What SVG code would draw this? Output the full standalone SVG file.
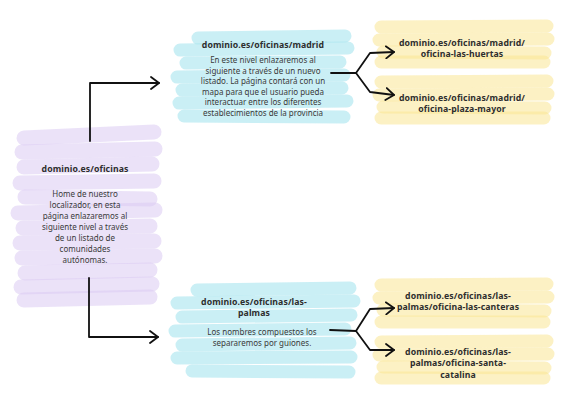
<svg xmlns="http://www.w3.org/2000/svg" width="567" height="406" viewBox="0 0 567 406">
<defs>
<marker id="arr" markerUnits="userSpaceOnUse" markerWidth="12" markerHeight="14" refX="9" refY="7" orient="auto">
<path d="M1,1 L9,7 L1,13" fill="none" stroke="#111" stroke-width="1.8" stroke-linecap="round" stroke-linejoin="round"/>
</marker>
<style>
.b{fill:none;stroke-linecap:round}
.pu{stroke:#dacbf3;stroke-opacity:.55;stroke-width:15}
.cy{stroke:#a6e5ee;stroke-opacity:.6;stroke-width:13}
.ye{stroke:#f9e594;stroke-opacity:.55;stroke-width:13}
.t{font-family:"Noto Sans","Open Sans",sans-serif;font-weight:700;font-size:8.7px;letter-spacing:0.1px;fill:#2e2e2e;text-anchor:middle}
.d{font-family:"Noto Sans","Open Sans",sans-serif;font-size:8px;fill:#3a3a3a;text-anchor:middle}
.c{fill:none;stroke:#111;stroke-width:1.8;stroke-linecap:round;stroke-linejoin:round}
</style>
</defs>
<rect width="567" height="406" fill="#ffffff"/>

<g id="node-oficinas">
<line class="b pu" x1="24" y1="138" x2="154" y2="132"/>
<line class="b pu" x1="22" y1="152" x2="155" y2="149"/>
<line class="b pu" x1="24" y1="167" x2="152" y2="164"/>
<line class="b pu" x1="20" y1="183" x2="154" y2="181"/>
<line class="b pu" x1="25" y1="197" x2="150" y2="199"/>
<line class="b pu" x1="18" y1="213" x2="155" y2="210"/>
<line class="b pu" x1="23" y1="228" x2="150" y2="226"/>
<line class="b pu" x1="20" y1="243" x2="154" y2="241"/>
<line class="b pu" x1="22" y1="258" x2="155" y2="256"/>
<line class="b pu" x1="25" y1="273" x2="150" y2="270"/>
<line class="b pu" x1="21" y1="287" x2="152" y2="284"/>
<line class="b pu" x1="24" y1="300" x2="150" y2="297"/>
<text class="t" x="85" y="172">dominio.es/oficinas</text>
<text class="d" x="85" y="197">Home de nuestro</text>
<text class="d" x="85" y="208">localizador, en esta</text>
<text class="d" x="85" y="219">página enlazaremos al</text>
<text class="d" x="85" y="230">siguiente nivel a través</text>
<text class="d" x="85" y="241">de un listado de</text>
<text class="d" x="85" y="252">comunidades</text>
<text class="d" x="85" y="263">autónomas.</text>
</g>

<g id="node-madrid">
<line class="b cy" x1="198" y1="38" x2="345" y2="36"/>
<line class="b cy" x1="180" y1="50" x2="348" y2="48"/>
<line class="b cy" x1="186" y1="63" x2="340" y2="62"/>
<line class="b cy" x1="177" y1="77" x2="344" y2="75"/>
<line class="b cy" x1="182" y1="90" x2="342" y2="88"/>
<line class="b cy" x1="179" y1="103" x2="347" y2="101"/>
<line class="b cy" x1="184" y1="116" x2="344" y2="117"/>
<text class="t" x="263" y="48">dominio.es/oficinas/madrid</text>
<text class="d" x="263" y="63">En este nivel enlazaremos al</text>
<text class="d" x="263" y="73.5">siguiente a través de un nuevo</text>
<text class="d" x="263" y="84">listado. La página contará con un</text>
<text class="d" x="263" y="94.5">mapa para que el usuario pueda</text>
<text class="d" x="263" y="105">interactuar entre los diferentes</text>
<text class="d" x="263" y="115.5">establecimientos de la provincia</text>
</g>

<g id="node-las-palmas">
<line class="b cy" x1="197" y1="290" x2="350" y2="288"/>
<line class="b cy" x1="177" y1="303" x2="354" y2="301"/>
<line class="b cy" x1="182" y1="317" x2="351" y2="315"/>
<line class="b cy" x1="175" y1="331" x2="345" y2="329"/>
<line class="b cy" x1="182" y1="345" x2="350" y2="343"/>
<line class="b cy" x1="177" y1="358" x2="351" y2="357"/>
<line class="b cy" x1="192" y1="371" x2="349" y2="372"/>
<text class="t" x="254" y="304.5">dominio.es/oficinas/las-</text>
<text class="t" x="254" y="316">palmas</text>
<text class="d" x="262" y="335">Los nombres compuestos los</text>
<text class="d" x="262" y="345.5">separaremos por guiones.</text>
</g>

<g id="node-las-huertas">
<line class="b ye" x1="381" y1="27" x2="547" y2="26"/>
<line class="b ye" x1="379" y1="40" x2="548" y2="39"/>
<line class="b ye" x1="383" y1="52" x2="545" y2="53"/>
<line class="b ye" x1="381" y1="62" x2="544" y2="62"/>
<text class="t" x="462" y="45.5">dominio.es/oficinas/madrid/</text>
<text class="t" x="462" y="57">oficina-las-huertas</text>
</g>

<g id="node-plaza-mayor">
<line class="b ye" x1="381" y1="82" x2="547" y2="81"/>
<line class="b ye" x1="379" y1="95" x2="548" y2="94"/>
<line class="b ye" x1="383" y1="107" x2="545" y2="108"/>
<line class="b ye" x1="381" y1="118" x2="544" y2="118"/>
<text class="t" x="462" y="100.5">dominio.es/oficinas/madrid/</text>
<text class="t" x="462" y="112">oficina-plaza-mayor</text>
</g>

<g id="node-las-canteras">
<line class="b ye" x1="381" y1="285" x2="547" y2="284"/>
<line class="b ye" x1="379" y1="298" x2="548" y2="297"/>
<line class="b ye" x1="383" y1="310" x2="545" y2="311"/>
<line class="b ye" x1="381" y1="322" x2="544" y2="322"/>
<text class="t" x="458" y="298.5">dominio.es/oficinas/las-</text>
<text class="t" x="458" y="310">palmas/oficina-las-canteras</text>
</g>

<g id="node-santa-catalina">
<line class="b ye" x1="381" y1="342" x2="547" y2="341"/>
<line class="b ye" x1="379" y1="355" x2="548" y2="354"/>
<line class="b ye" x1="383" y1="367" x2="545" y2="368"/>
<line class="b ye" x1="381" y1="378" x2="544" y2="378"/>
<text class="t" x="458" y="354.5">dominio.es/oficinas/las-</text>
<text class="t" x="458" y="366">palmas/oficina-santa-</text>
<text class="t" x="458" y="377.5">catalina</text>
</g>

<g id="connectors">
<path class="c" d="M90,141 L90,83 L159,83" marker-end="url(#arr)"/>
<path class="c" d="M89,278 L89,337 L158,337" marker-end="url(#arr)"/>
<path class="c" d="M331,73 L356,73"/>
<path class="c" d="M356,73 L370,53 L394,52" marker-end="url(#arr)"/>
<path class="c" d="M356,73 L370,92 L394,95" marker-end="url(#arr)"/>
<path class="c" d="M330,330 L356,331"/>
<path class="c" d="M356,331 L370,309 L394,308" marker-end="url(#arr)"/>
<path class="c" d="M356,331 L370,350 L394,350" marker-end="url(#arr)"/>
</g>
</svg>
